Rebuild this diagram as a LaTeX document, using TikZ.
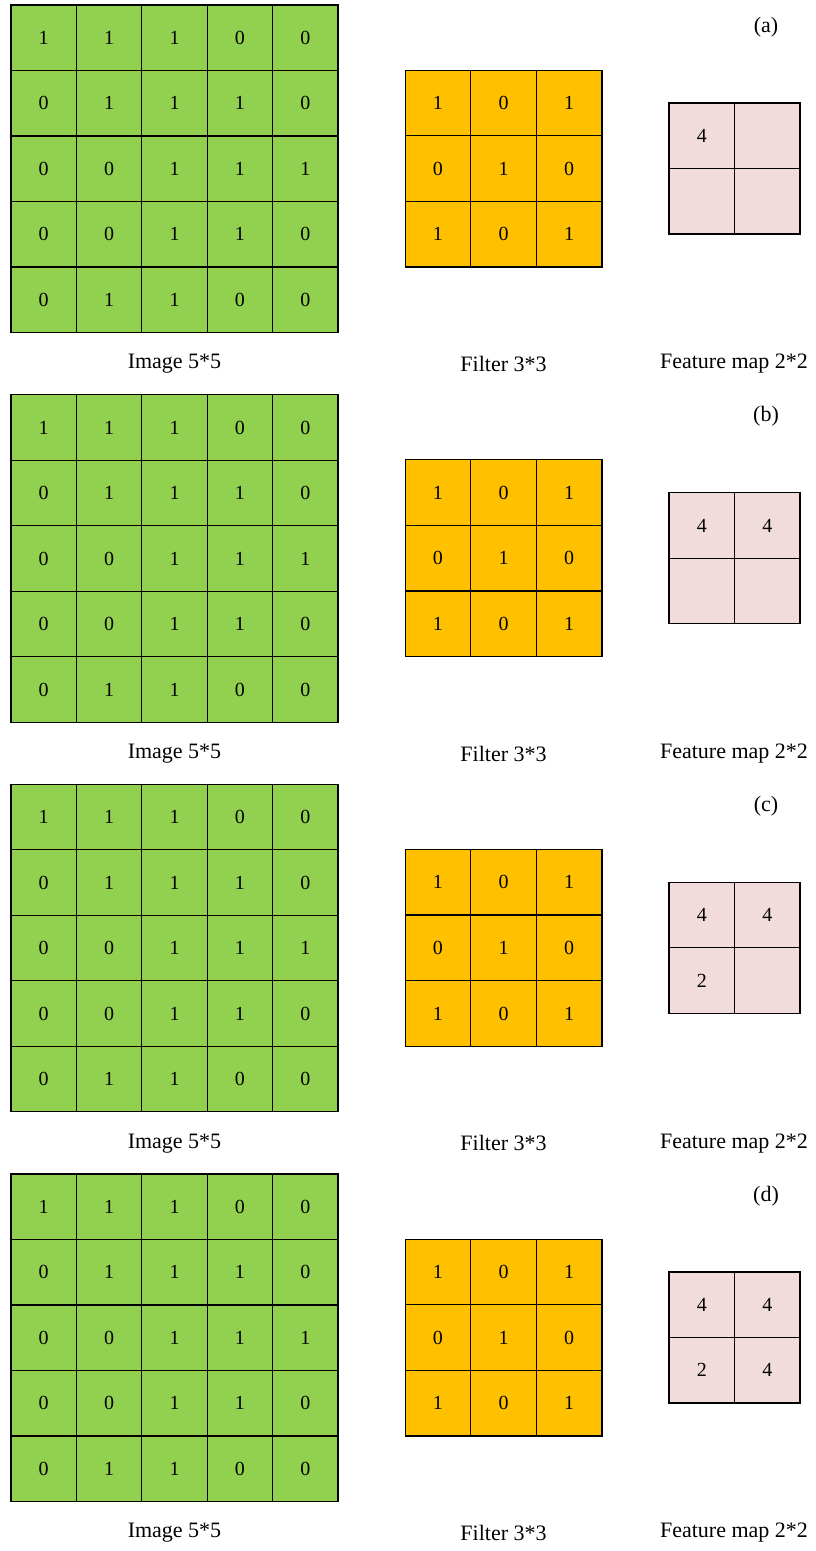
\documentclass[tikz,border=0pt]{standalone}
\usepackage{fontspec}
\setmainfont{Liberation Serif}
\usetikzlibrary{positioning}
\definecolor{imggreen}{HTML}{92D050}
\definecolor{filtorange}{HTML}{FFC000}
\definecolor{mappink}{HTML}{F2DCDB}

\begin{document}
\begin{tikzpicture}[x=1pt,y=-1pt,
		cell/.style={rectangle,draw,line width=1.2pt,minimum size=65.5pt,inner sep=0pt,font=\fontsize{20}{20}\selectfont},
		g/.style={cell,fill=imggreen},
		f/.style={cell,fill=filtorange},
		m/.style={cell,fill=mappink},
		lbl/.style={font=\fontsize{22}{22}\selectfont}
		]
		\useasboundingbox (0,0) rectangle (816,1551);

		% one panel per step of the convolution
		\foreach \p/\dy/\va/\vb/\vc/\vd in {a/0/4/{}/{}/{},b/389.7/4/4/{}/{},c/779.3/4/4/2/{},d/1169/4/4/2/4} {
			% input image
			\foreach \r/\row in {1/{1,1,1,0,0},2/{0,1,1,1,0},3/{0,0,1,1,1},4/{0,0,1,1,0},5/{0,1,1,0,0}}
				\foreach \v [count=\c] in \row
					\node [g] (img-\p-\r-\c) at (11+65.4*\c-32.7, 5+\dy+65.5*\r-32.75) {\v};
			% filter
			\foreach \r/\row in {1/{1,0,1},2/{0,1,0},3/{1,0,1}}
				\foreach \v [count=\c] in \row
					\node [f] (flt-\p-\r-\c) at (405+65.67*\c-32.8, 70+\dy+65.67*\r-32.8) {\v};
			% feature map
			\node [m] (map-\p-1-1) at (701.75, 135.75+\dy) {\va};
			\node [m] (map-\p-1-2) at (767.25, 135.75+\dy) {\vb};
			\node [m] (map-\p-2-1) at (701.75, 201.25+\dy) {\vc};
			\node [m] (map-\p-2-2) at (767.25, 201.25+\dy) {\vd};

			\node [lbl] (img label \p) at (174.5, 364+\dy) {Image 5*5};
			\node [lbl] (flt label \p) at (503.5, 364+\dy) {Filter 3*3};
			\node [lbl] (map label \p) at (734, 364+\dy) {Feature map 2*2};
			\node [lbl] (step \p) at (766, 27+\dy) {(\p)};
		}
	\end{tikzpicture}
\end{document}
